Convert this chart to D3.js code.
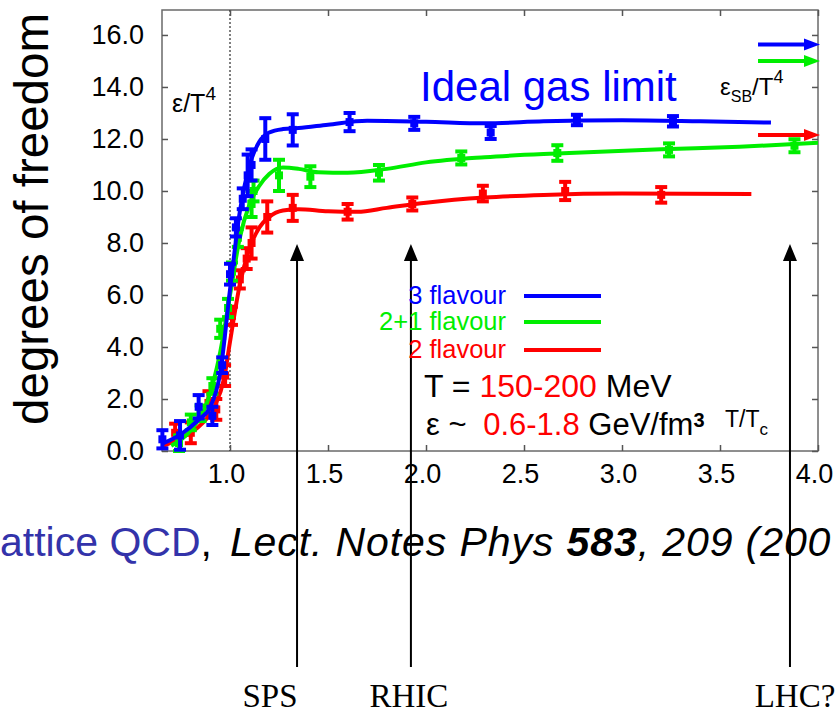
<!DOCTYPE html>
<html><head><meta charset="utf-8">
<script src="https://cdn.jsdelivr.net/npm/d3@7"></script>
<style>body{margin:0;background:#fff;overflow:hidden} svg{display:block}</style>
</head><body>
<script>
// ---------- data ----------
const xTicks = [1.0, 1.5, 2.0, 2.5, 3.0, 3.5, 4.0];
const yTicks = [0, 2, 4, 6, 8, 10, 12, 14, 16];

const seriesNames = ["3 flavour", "2+1 flavour", "2 flavour"];

// 3 flavour (lattice points, error)
const blueX   = [0.655, 0.745, 0.84, 0.91, 0.96, 1.00, 1.03, 1.065, 1.09, 1.11, 1.18, 1.32, 1.61, 1.94, 2.33, 2.77, 3.26];
const blueY   = [0.45, 0.6, 1.7, 1.35, 3.3, 6.8, 8.6, 9.7, 10.6, 11.0, 12.0, 12.35, 12.65, 12.6, 12.25, 12.73, 12.68];
const blueErr = [0.35, 0.55, 0.45, 0.35, 0.3, 0.4, 0.35, 0.4, 0.8, 0.6, 0.8, 0.6, 0.35, 0.25, 0.25, 0.2, 0.2];
const blueFitX = [0.66, 0.75, 0.84, 0.9, 0.95, 1.0, 1.05, 1.1, 1.15, 1.2, 1.27, 1.35, 1.5, 1.7, 2.0, 2.3, 2.6, 3.0, 3.4, 3.76];
const blueFitY = [0.3, 0.65, 1.2, 1.7, 3.0, 6.2, 9.2, 11.0, 11.9, 12.25, 12.38, 12.42, 12.55, 12.7, 12.66, 12.6, 12.68, 12.72, 12.68, 12.63];

// 2+1 flavour
const greenX   = [0.74, 0.80, 0.85, 0.91, 0.95, 0.99, 1.01, 1.04, 1.11, 1.12, 1.25, 1.41, 1.76, 2.18, 2.67, 3.24, 3.88];
const greenY   = [0.3, 1.1, 1.45, 2.5, 4.7, 5.5, 6.9, 8.2, 9.5, 10.0, 10.6, 10.55, 10.7, 11.27, 11.46, 11.58, 11.74];
const greenErr = [0.3, 0.3, 0.3, 0.3, 0.35, 0.35, 0.35, 0.35, 0.5, 0.4, 0.6, 0.4, 0.3, 0.25, 0.3, 0.25, 0.25];
const greenFitX = [0.70, 0.80, 0.88, 0.95, 1.0, 1.05, 1.1, 1.15, 1.2, 1.27, 1.35, 1.45, 1.6, 1.8, 2.0, 2.3, 2.7, 3.2, 3.6, 4.0];
const greenFitY = [0.2, 0.8, 1.8, 3.8, 6.0, 8.2, 9.5, 10.2, 10.65, 10.9, 10.85, 10.72, 10.7, 10.85, 11.1, 11.3, 11.45, 11.6, 11.7, 11.85];

// 2 flavour
const redX   = [0.72, 0.80, 0.89, 0.93, 0.975, 1.01, 1.05, 1.085, 1.11, 1.19, 1.32, 1.60, 1.93, 2.29, 2.71, 3.20];
const redY   = [0.7, 0.7, 1.85, 1.6, 2.9, 5.2, 6.6, 7.4, 8.0, 9.0, 9.35, 9.2, 9.5, 9.9, 10.0, 9.85];
const redErr = [0.35, 0.4, 0.45, 0.4, 0.4, 0.35, 0.35, 0.4, 0.6, 0.6, 0.5, 0.3, 0.25, 0.3, 0.35, 0.3];
const redFitX = [0.66, 0.75, 0.85, 0.92, 0.97, 1.0, 1.05, 1.1, 1.15, 1.2, 1.27, 1.35, 1.5, 1.65, 1.8, 2.0, 2.3, 2.6, 3.0, 3.66];
const redFitY = [0.2, 0.5, 1.0, 1.7, 2.8, 4.2, 6.4, 7.8, 8.6, 9.0, 9.25, 9.3, 9.22, 9.2, 9.35, 9.55, 9.75, 9.85, 9.9, 9.88];

// Stefan-Boltzmann limits (arrows at right edge): 3, 2+1, 2 flavour
const sbLimits = [15.63, 15.0, 12.15];

// experiments (T/Tc reached)
const expX = [1.342, 1.923, 3.857];
const expLabels = ["SPS", "RHIC", "LHC?"];

// ---------- drawing ----------
const W = 838, H = 713;
const colors = ["#0000ff", "#00ee00", "#ff0000"];
const svg = d3.select("body").append("svg").attr("width", W).attr("height", H)
  .style("font-family", "'Liberation Sans', Arial, Helvetica, sans-serif");

const x = d3.scaleLinear().domain([0.653, 4.0]).range([162, 818]);
const y = d3.scaleLinear().domain([0, 16.96]).range([451, 10]);

// frame
svg.append("rect").attr("x", 162).attr("y", 10).attr("width", 656).attr("height", 441)
  .attr("fill", "none").attr("stroke", "#6a6a6a").attr("stroke-width", 1.5);

// dotted line at Tc
svg.append("line").attr("x1", x(1)).attr("x2", x(1)).attr("y1", y.range()[1]).attr("y2", y.range()[0])
  .attr("stroke", "#000").attr("stroke-width", 1).attr("stroke-dasharray", "2,2");

const fmt = d3.format(".1f");
function styleAxis(g) {
  g.select(".domain").remove();
  g.selectAll(".tick line").attr("stroke", "#555").attr("stroke-width", 1.5);
  g.selectAll("text").attr("fill", "#000").style("font-size", "27px")
    .style("font-family", "'Liberation Sans', Arial, sans-serif");
}
svg.append("g").attr("transform", "translate(162,0)")
  .call(d3.axisLeft(y).tickValues(yTicks).tickFormat(fmt).tickSizeInner(-6).tickSizeOuter(0).tickPadding(18))
  .call(styleAxis);
svg.append("g").attr("transform", "translate(818,0)")
  .call(d3.axisRight(y).tickValues(yTicks).tickFormat("").tickSizeInner(-6).tickSizeOuter(0))
  .call(styleAxis);
svg.append("g").attr("transform", "translate(0,451)")
  .call(d3.axisBottom(x).tickValues(xTicks).tickFormat(fmt).tickSizeInner(-6).tickSizeOuter(0).tickPadding(13))
  .call(styleAxis)
  .call(g => g.selectAll(".tick text").attr("dx", -4));
svg.append("g").attr("transform", "translate(0,10)")
  .call(d3.axisTop(x).tickValues(xTicks).tickFormat("").tickSizeInner(-6).tickSizeOuter(0))
  .call(styleAxis);

// series
const series = [
  {xs: blueX, ys: blueY, es: blueErr, fx: blueFitX, fy: blueFitY},
  {xs: greenX, ys: greenY, es: greenErr, fx: greenFitX, fy: greenFitY},
  {xs: redX, ys: redY, es: redErr, fx: redFitX, fy: redFitY}
];
const line = d3.line().x(d => x(d[0])).y(d => y(d[1])).curve(d3.curveMonotoneX);
[2, 1, 0].forEach(i => {
  const s = series[i], c = colors[i];
  const g = svg.append("g");
  g.append("path").datum(d3.zip(s.fx, s.fy)).attr("d", line)
    .attr("fill", "none").attr("stroke", c).attr("stroke-width", 4).attr("stroke-linejoin", "round");
  const pts = d3.zip(s.xs, s.ys, s.es);
  const pg = g.selectAll("g.pt").data(pts).enter().append("g");
  pg.append("line").attr("x1", d => x(d[0])).attr("x2", d => x(d[0]))
    .attr("y1", d => y(d[1] - d[2])).attr("y2", d => y(d[1] + d[2]))
    .attr("stroke", c).attr("stroke-width", 4);
  pg.append("line").attr("x1", d => x(d[0]) - 6).attr("x2", d => x(d[0]) + 6)
    .attr("y1", d => y(d[1] + d[2])).attr("y2", d => y(d[1] + d[2]))
    .attr("stroke", c).attr("stroke-width", 4);
  pg.append("line").attr("x1", d => x(d[0]) - 6).attr("x2", d => x(d[0]) + 6)
    .attr("y1", d => y(d[1] - d[2])).attr("y2", d => y(d[1] - d[2]))
    .attr("stroke", c).attr("stroke-width", 4);
  pg.append("rect").attr("x", d => x(d[0]) - 4).attr("y", d => y(d[1]) - 4)
    .attr("width", 8).attr("height", 8).attr("fill", c);
});

// SB limit arrows
sbLimits.forEach((v, i) => {
  const yy = y(v), x0 = x(3.694), x1 = x(4.0) + 2;
  svg.append("line").attr("x1", x0).attr("x2", x1 - 12).attr("y1", yy).attr("y2", yy)
    .attr("stroke", colors[i]).attr("stroke-width", 4);
  svg.append("path").attr("d", `M${x1},${yy} L${x1 - 16},${yy - 6} L${x1 - 16},${yy + 6} Z`).attr("fill", colors[i]);
});

// experiment arrows
expX.forEach((v, i) => {
  const xx = x(v);
  svg.append("line").attr("x1", xx).attr("x2", xx).attr("y1", 258).attr("y2", 667)
    .attr("stroke", "#000").attr("stroke-width", 2);
  svg.append("path").attr("d", `M${xx},244 L${xx - 7},261 L${xx + 7},261 Z`).attr("fill", "#000");
});
const expDx = [-27, -2, 5];
expLabels.forEach((t, i) => {
  svg.append("text").attr("x", x(expX[i]) + expDx[i]).attr("y", 707).attr("text-anchor", "middle")
    .style("font-family", "'Liberation Serif', 'Times New Roman', serif").style("font-size", "33px")
    .attr("fill", "#000").text(t);
});

// labels inside plot
const eT = svg.append("text").attr("x", 172).attr("y", 112).style("font-size", "25px").attr("fill", "#000");
eT.append("tspan").text("ε/T");
eT.append("tspan").attr("dy", -12).style("font-size", "19px").text("4");

svg.append("text").attr("x", 420).attr("y", 101).style("font-size", "42px").attr("fill", "#0000ff").text("Ideal gas limit");

const sb = svg.append("text").attr("x", 720).attr("y", 95).style("font-size", "24px").attr("fill", "#000");
sb.append("tspan").text("ε");
sb.append("tspan").attr("dy", 7).style("font-size", "16px").text("SB");
sb.append("tspan").attr("dy", -7).text("/T");
sb.append("tspan").attr("dy", -12).style("font-size", "18px").text("4");

// legend
const legY = [296, 322, 350];
seriesNames.forEach((n, i) => {
  svg.append("text").attr("x", 506).attr("y", legY[i] + 8).attr("text-anchor", "end")
    .style("font-size", "25.5px").attr("fill", colors[i]).text(n);
  svg.append("line").attr("x1", 524).attr("x2", 601).attr("y1", legY[i]).attr("y2", legY[i])
    .attr("stroke", colors[i]).attr("stroke-width", 4);
});

const t1 = svg.append("text").attr("x", 424).attr("y", 397).style("font-size", "32px").attr("fill", "#000");
t1.append("tspan").text("T = ");
t1.append("tspan").attr("fill", "#ff0000").text("150-200");
t1.append("tspan").text(" MeV");

const t2 = svg.append("text").attr("x", 426).attr("y", 435).style("font-size", "31px").attr("fill", "#000");
t2.append("tspan").text("ε ~ ");
t2.append("tspan").attr("fill", "#ff0000").attr("dx", 8).text("0.6-1.8");
t2.append("tspan").text(" GeV/fm");
t2.append("tspan").attr("dy", -8).style("font-size", "20px").style("font-weight", "bold").text("3");

const xl = svg.append("text").attr("x", 725).attr("y", 427).style("font-size", "23px").attr("fill", "#000");
xl.append("tspan").text("T/T");
xl.append("tspan").attr("dy", 8).style("font-size", "17px").text("c");

// y title
svg.append("text").attr("transform", "translate(48,219) rotate(-90)").attr("text-anchor", "middle")
  .style("font-size", "47.5px").attr("fill", "#000").text("degrees of freedom");

// citation
const cit = svg.append("text").attr("x", 0).attr("y", 556).style("font-size", "41px").attr("fill", "#000");
cit.append("tspan").attr("fill", "#3333aa").text("attice QCD");
cit.append("tspan").text(",");
cit.append("tspan").attr("dx", 18).style("font-style", "italic").style("letter-spacing", "0.9px").text("Lect. Notes Phys ");
cit.append("tspan").style("font-style", "italic").style("font-weight", "bold").style("letter-spacing", "0.9px").text("583");
cit.append("tspan").style("font-style", "italic").style("letter-spacing", "0.9px").text(", 209 (200");
</script>
</body></html>
